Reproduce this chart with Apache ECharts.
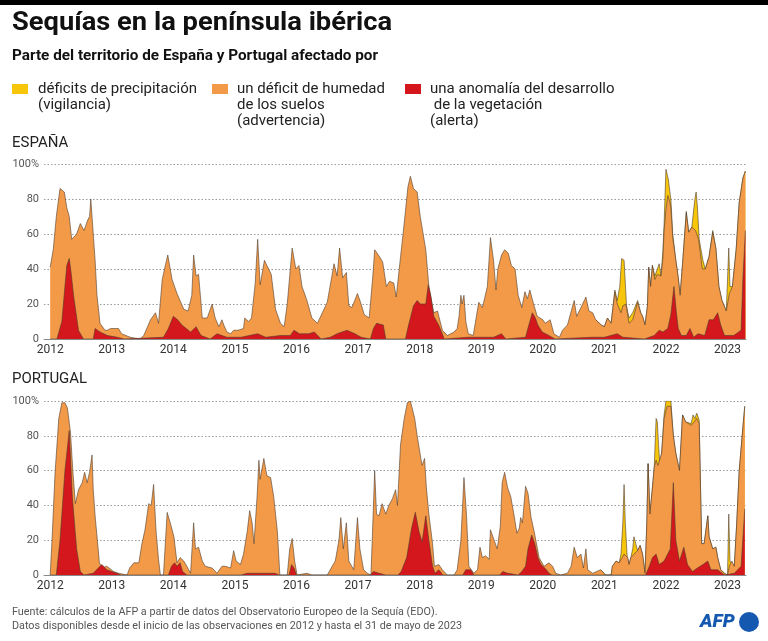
<!DOCTYPE html>
<html>
<head>
<meta charset="utf-8">
<script src="https://cdn.jsdelivr.net/npm/echarts@6/dist/echarts.min.js"></script>
<style>
	html, body { margin: 0; padding: 0; background: #fff; }
	#chart { width: 768px; height: 641px; }
</style>
</head>
<body>
<div id="chart"></div>
<script>
// años mostrados en el eje
const yearTicks = [2012, 2013, 2014, 2015, 2016, 2017, 2018, 2019, 2020, 2021, 2022, 2023]

// España: % del territorio [año, valor]
const esOrange = [
	[2012.0, 41], [2012.05, 51], [2012.1, 70], [2012.16, 86], [2012.19, 87], [2012.23, 84], [2012.27, 75], [2012.31, 70],
	[2012.35, 57], [2012.43, 60], [2012.49, 66], [2012.52, 67], [2012.55, 62], [2012.61, 68], [2012.64, 70], [2012.66, 80],
	[2012.69, 65], [2012.73, 45], [2012.76, 25], [2012.81, 9], [2012.89, 5], [2012.93, 5], [2012.98, 6], [2013.06, 6],
	[2013.11, 6], [2013.16, 3], [2013.3, 1], [2013.46, 0], [2013.52, 2], [2013.63, 11], [2013.71, 15], [2013.76, 9],
	[2013.82, 34], [2013.87, 42], [2013.91, 48], [2013.98, 34], [2014.06, 26], [2014.17, 17], [2014.24, 16], [2014.3, 25],
	[2014.33, 48], [2014.37, 36], [2014.41, 37], [2014.47, 12], [2014.55, 12], [2014.63, 20], [2014.68, 12], [2014.74, 7],
	[2014.79, 11], [2014.82, 8], [2014.87, 4], [2014.93, 3], [2014.98, 5], [2015.05, 5], [2015.14, 6], [2015.16, 12],
	[2015.22, 10], [2015.27, 12], [2015.33, 32], [2015.37, 57], [2015.41, 31], [2015.48, 45], [2015.52, 42], [2015.59, 37],
	[2015.66, 17], [2015.74, 9], [2015.8, 7], [2015.85, 20], [2015.93, 52], [2015.99, 40], [2016.04, 42], [2016.09, 30],
	[2016.17, 22], [2016.25, 12], [2016.34, 9], [2016.42, 15], [2016.5, 21], [2016.61, 43], [2016.66, 36], [2016.7, 52],
	[2016.75, 35], [2016.81, 38], [2016.85, 19], [2016.9, 18], [2016.99, 26], [2017.04, 21], [2017.1, 14], [2017.18, 12],
	[2017.24, 36], [2017.27, 51], [2017.35, 47], [2017.4, 44], [2017.46, 30], [2017.51, 33], [2017.58, 32], [2017.62, 24],
	[2017.69, 47], [2017.74, 63], [2017.81, 87], [2017.85, 93], [2017.9, 86], [2017.96, 84], [2018.01, 70], [2018.1, 51],
	[2018.15, 30], [2018.23, 15], [2018.29, 16], [2018.37, 5], [2018.45, 2], [2018.56, 4], [2018.61, 6], [2018.64, 13],
	[2018.67, 25], [2018.69, 20], [2018.72, 25], [2018.75, 10], [2018.79, 3], [2018.87, 2], [2018.96, 21], [2019.02, 18],
	[2019.1, 30], [2019.15, 58], [2019.2, 45], [2019.24, 28], [2019.27, 40], [2019.33, 48], [2019.38, 51], [2019.44, 49],
	[2019.49, 42], [2019.55, 40], [2019.6, 25], [2019.66, 18], [2019.71, 27], [2019.75, 23], [2019.79, 28], [2019.85, 20],
	[2019.91, 13], [2020.0, 11], [2020.04, 9], [2020.12, 11], [2020.18, 3], [2020.27, 1], [2020.32, 5], [2020.4, 8],
	[2020.51, 22], [2020.55, 13], [2020.62, 18], [2020.7, 24], [2020.75, 16], [2020.81, 15], [2020.86, 11], [2020.95, 8],
	[2021.0, 7], [2021.05, 12], [2021.08, 13], [2021.11, 9], [2021.17, 27], [2021.21, 20], [2021.27, 15], [2021.3, 19],
	[2021.35, 20], [2021.4, 9], [2021.46, 11], [2021.54, 21], [2021.59, 15], [2021.62, 13], [2021.66, 8], [2021.7, 19],
	[2021.72, 41], [2021.75, 30], [2021.78, 42], [2021.82, 34], [2021.86, 37], [2021.92, 36], [2021.95, 46], [2021.97, 62],
	[2022.0, 74], [2022.03, 82], [2022.06, 79], [2022.08, 75], [2022.11, 58], [2022.16, 45], [2022.2, 35], [2022.23, 25],
	[2022.27, 43], [2022.33, 72], [2022.37, 61], [2022.42, 64], [2022.48, 62], [2022.53, 57], [2022.59, 40], [2022.64, 40],
	[2022.7, 47], [2022.76, 61], [2022.81, 52], [2022.86, 30], [2022.91, 22], [2022.98, 16], [2023.03, 26], [2023.08, 30],
	[2023.14, 51], [2023.19, 78], [2023.25, 92], [2023.29, 96]
]
const esYellow = [
	[2020.86, 11], [2020.95, 8], [2021.0, 7], [2021.05, 12], [2021.08, 13], [2021.11, 9], [2021.17, 28], [2021.21, 22],
	[2021.25, 30], [2021.28, 46], [2021.32, 45], [2021.36, 19], [2021.4, 12], [2021.46, 15], [2021.54, 22], [2021.59, 15],
	[2021.62, 13], [2021.66, 8], [2021.7, 19], [2021.72, 41], [2021.75, 30], [2021.78, 42], [2021.82, 36], [2021.86, 40],
	[2021.89, 43], [2021.92, 36], [2021.95, 50], [2021.97, 66], [2022.0, 97], [2022.04, 91], [2022.06, 85], [2022.08, 80],
	[2022.11, 60], [2022.16, 45], [2022.2, 35], [2022.23, 25], [2022.27, 43], [2022.33, 73], [2022.37, 61], [2022.42, 64],
	[2022.47, 80], [2022.49, 84], [2022.51, 76], [2022.54, 57], [2022.6, 45], [2022.64, 40], [2022.68, 45], [2022.7, 47],
	[2022.76, 62], [2022.81, 52], [2022.86, 30], [2022.91, 22], [2022.98, 16], [2023.02, 52], [2023.04, 30], [2023.08, 30],
	[2023.14, 51], [2023.19, 78], [2023.25, 92], [2023.29, 96]
]
const esRed = [
	[2012.0, 0], [2012.11, 0], [2012.19, 10], [2012.24, 30], [2012.27, 42], [2012.31, 46], [2012.34, 38], [2012.38, 25],
	[2012.46, 5], [2012.54, 0], [2012.7, 0], [2012.73, 6], [2012.81, 4], [2012.93, 2], [2013.09, 1], [2013.2, 0],
	[2013.84, 1], [2013.92, 6], [2014.0, 13], [2014.07, 11], [2014.14, 8], [2014.28, 4], [2014.37, 7], [2014.45, 2],
	[2014.6, 0], [2014.71, 3], [2014.87, 1], [2015.1, 1], [2015.37, 3], [2015.5, 1], [2015.74, 2], [2015.9, 2],
	[2015.96, 5], [2016.05, 3], [2016.2, 3], [2016.29, 4], [2016.4, 0], [2016.55, 1], [2016.66, 3], [2016.82, 5],
	[2016.95, 3], [2017.05, 1], [2017.2, 0], [2017.25, 6], [2017.3, 9], [2017.41, 8], [2017.45, 0], [2017.77, 0],
	[2017.82, 8], [2017.85, 12], [2017.9, 19], [2017.96, 22], [2018.01, 20], [2018.1, 20], [2018.14, 31], [2018.18, 25],
	[2018.23, 13], [2018.31, 8], [2018.4, 0], [2018.79, 1], [2019.2, 1], [2019.33, 3], [2019.4, 0], [2019.72, 1],
	[2019.75, 5], [2019.83, 15], [2019.88, 12], [2019.92, 8], [2019.95, 9], [2019.99, 4], [2020.1, 2], [2020.2, 0],
	[2020.8, 1], [2021.0, 1], [2021.21, 3], [2021.3, 1], [2021.65, 0], [2021.81, 2], [2021.89, 5], [2021.95, 4],
	[2022.03, 6], [2022.08, 14], [2022.13, 30], [2022.17, 15], [2022.2, 6], [2022.25, 2], [2022.33, 2], [2022.39, 6],
	[2022.45, 1], [2022.52, 3], [2022.63, 2], [2022.7, 11], [2022.77, 11], [2022.84, 15], [2022.89, 8], [2022.95, 2],
	[2023.1, 2], [2023.22, 5], [2023.25, 35], [2023.29, 62]
]

// Portugal
const ptOrange = [
	[2012.0, 0], [2012.03, 20], [2012.08, 59], [2012.14, 90], [2012.19, 99], [2012.24, 99], [2012.28, 96], [2012.33, 82],
	[2012.37, 59], [2012.41, 41], [2012.46, 49], [2012.52, 53], [2012.56, 59], [2012.6, 53], [2012.64, 59], [2012.68, 69],
	[2012.7, 49], [2012.73, 34], [2012.76, 33], [2012.8, 7], [2012.84, 4], [2012.92, 5], [2013.03, 2], [2013.11, 1],
	[2013.25, 0], [2013.29, 4], [2013.36, 7], [2013.44, 7], [2013.49, 18], [2013.54, 26], [2013.6, 41], [2013.64, 40],
	[2013.68, 52], [2013.72, 25], [2013.76, 9], [2013.79, 0], [2013.84, 0], [2013.9, 36], [2013.95, 30], [2014.01, 22],
	[2014.06, 7], [2014.11, 10], [2014.17, 8], [2014.22, 5], [2014.28, 1], [2014.33, 30], [2014.36, 15], [2014.41, 16],
	[2014.47, 8], [2014.52, 5], [2014.63, 4], [2014.71, 1], [2014.79, 5], [2014.85, 5], [2014.93, 4], [2014.98, 14],
	[2015.02, 8], [2015.09, 6], [2015.14, 12], [2015.2, 25], [2015.24, 37], [2015.28, 30], [2015.31, 18], [2015.36, 45],
	[2015.39, 66], [2015.41, 55], [2015.47, 67], [2015.52, 57], [2015.58, 56], [2015.63, 45], [2015.69, 25], [2015.73, 0],
	[2015.85, 0], [2015.89, 15], [2015.93, 21], [2015.97, 8], [2016.01, 0], [2016.17, 1], [2016.25, 0], [2016.5, 0],
	[2016.58, 5], [2016.63, 8], [2016.69, 20], [2016.72, 33], [2016.76, 15], [2016.81, 30], [2016.85, 8], [2016.93, 3],
	[2016.99, 33], [2017.03, 15], [2017.09, 3], [2017.15, 1], [2017.21, 0], [2017.27, 60], [2017.3, 35], [2017.34, 34],
	[2017.39, 41], [2017.45, 35], [2017.5, 40], [2017.56, 44], [2017.61, 49], [2017.64, 40], [2017.69, 75], [2017.75, 90],
	[2017.8, 99], [2017.85, 100], [2017.92, 90], [2017.96, 80], [2018.02, 67], [2018.04, 63], [2018.08, 67], [2018.11, 50],
	[2018.15, 35], [2018.21, 18], [2018.24, 5], [2018.31, 6], [2018.37, 3], [2018.45, 0], [2018.56, 0], [2018.61, 3],
	[2018.67, 20], [2018.72, 56], [2018.76, 35], [2018.8, 5], [2018.88, 1], [2018.94, 3], [2018.98, 16], [2019.02, 10],
	[2019.07, 11], [2019.13, 9], [2019.15, 26], [2019.21, 20], [2019.26, 15], [2019.31, 28], [2019.34, 53], [2019.38, 59],
	[2019.43, 50], [2019.48, 45], [2019.53, 35], [2019.58, 24], [2019.62, 27], [2019.64, 33], [2019.67, 30], [2019.72, 51],
	[2019.76, 47], [2019.81, 33], [2019.86, 25], [2019.94, 10], [2020.02, 5], [2020.1, 7], [2020.16, 5], [2020.21, 1],
	[2020.29, 0], [2020.4, 1], [2020.46, 5], [2020.51, 16], [2020.56, 10], [2020.62, 12], [2020.66, 4], [2020.7, 15],
	[2020.73, 3], [2020.81, 1], [2020.94, 3], [2021.02, 0], [2021.11, 0], [2021.13, 5], [2021.19, 8], [2021.24, 7],
	[2021.29, 10], [2021.32, 12], [2021.38, 10], [2021.4, 6], [2021.43, 10], [2021.48, 12], [2021.54, 14], [2021.58, 17],
	[2021.62, 12], [2021.66, 1], [2021.69, 30], [2021.71, 64], [2021.74, 35], [2021.78, 50], [2021.81, 62], [2021.84, 66],
	[2021.87, 63], [2021.9, 62], [2021.93, 70], [2021.97, 90], [2022.02, 97], [2022.08, 97], [2022.12, 80], [2022.16, 70],
	[2022.22, 60], [2022.27, 92], [2022.32, 88], [2022.41, 86], [2022.46, 88], [2022.5, 90], [2022.54, 87], [2022.57, 88],
	[2022.58, 18], [2022.62, 18], [2022.68, 34], [2022.7, 22], [2022.76, 15], [2022.81, 16], [2022.84, 10], [2022.89, 3],
	[2022.95, 1], [2023.0, 0], [2023.03, 5], [2023.07, 8], [2023.11, 5], [2023.15, 30], [2023.19, 60], [2023.25, 85],
	[2023.28, 97]
]
const ptYellow = [
	[2020.94, 3], [2021.02, 0], [2021.11, 0], [2021.13, 5], [2021.19, 8], [2021.24, 7], [2021.27, 12], [2021.3, 30],
	[2021.32, 52], [2021.34, 30], [2021.37, 11], [2021.4, 6], [2021.43, 10], [2021.46, 15], [2021.48, 22], [2021.51, 18],
	[2021.54, 14], [2021.58, 17], [2021.62, 12], [2021.66, 1], [2021.69, 30], [2021.71, 64], [2021.74, 35], [2021.78, 50],
	[2021.81, 62], [2021.84, 90], [2021.86, 88], [2021.88, 75], [2021.9, 64], [2021.93, 70], [2021.97, 92], [2022.0, 100],
	[2022.08, 100], [2022.12, 80], [2022.16, 70], [2022.22, 60], [2022.27, 92], [2022.32, 88], [2022.41, 87], [2022.44, 92],
	[2022.47, 90], [2022.5, 93], [2022.54, 89], [2022.57, 88], [2022.58, 18], [2022.62, 18], [2022.68, 34], [2022.7, 22],
	[2022.76, 15], [2022.81, 16], [2022.84, 10], [2022.89, 3], [2022.95, 1], [2023.0, 0], [2023.02, 35], [2023.04, 8],
	[2023.07, 8], [2023.11, 5], [2023.15, 30], [2023.19, 60], [2023.25, 85], [2023.28, 97]
]
const ptRed = [
	[2012.0, 0], [2012.1, 0], [2012.16, 20], [2012.24, 60], [2012.31, 83], [2012.36, 45], [2012.43, 15], [2012.49, 2],
	[2012.55, 0], [2012.7, 1], [2012.78, 4], [2012.84, 6], [2012.92, 3], [2013.08, 1], [2013.15, 0], [2013.92, 0],
	[2013.97, 5], [2014.02, 7], [2014.06, 5], [2014.11, 7], [2014.15, 2], [2014.22, 0], [2015.1, 0], [2015.2, 1],
	[2015.65, 1], [2015.72, 0], [2015.88, 0], [2015.92, 6], [2015.96, 4], [2016.0, 0], [2017.2, 0], [2017.25, 2],
	[2017.34, 1], [2017.45, 0], [2017.65, 0], [2017.7, 2], [2017.79, 10], [2017.87, 27], [2017.93, 36], [2017.99, 25],
	[2018.04, 19], [2018.1, 34], [2018.15, 20], [2018.21, 5], [2018.25, 1], [2018.31, 3], [2018.38, 0], [2018.7, 0],
	[2018.75, 3], [2018.83, 3], [2018.88, 0], [2019.3, 0], [2019.35, 2], [2019.43, 1], [2019.6, 0], [2019.66, 2],
	[2019.72, 5], [2019.76, 15], [2019.82, 23], [2019.87, 18], [2019.92, 10], [2019.97, 6], [2020.06, 3], [2020.1, 1],
	[2020.15, 0], [2021.67, 0], [2021.73, 5], [2021.78, 10], [2021.84, 12], [2021.89, 6], [2021.97, 8], [2022.07, 15],
	[2022.12, 53], [2022.16, 20], [2022.22, 8], [2022.29, 16], [2022.35, 6], [2022.43, 2], [2022.51, 4], [2022.6, 6],
	[2022.68, 8], [2022.73, 3], [2022.84, 3], [2022.95, 0], [2023.11, 1], [2023.22, 5], [2023.28, 38]
]

const cYellow = '#f7c60a'
const cOrange = '#f29a48'
const cRed = '#d3171d'
const edge = 'rgba(80, 60, 45, 0.85)'
const FONT = 'Roboto, "Noto Sans", sans-serif'

const ctx = document.createElement('canvas').getContext('2d')
// comprime el texto horizontalmente hasta el ancho del original
const squeeze = (text, font, width) => {
	ctx.font = font
	return width / ctx.measureText(text).width
}

const label = (text, x, y, font, color, sx) => ({
	type: 'text',
	x: x,
	y: y,
	scaleX: sx,
	scaleY: 1,
	silent: true,
	style: { text: text, font: font, fill: color, verticalAlign: 'middle' },
})

const titleFont = 'bold 26px ' + FONT
const subFont = 'bold 15px ' + FONT
const legFont = '14px ' + FONT
const sTitle = squeeze('Sequías en la península ibérica', titleFont, 380)
const sSub = squeeze('Parte del territorio de España y Portugal afectado por', subFont, 366)
const sLeg = squeeze('déficits de precipitación', legFont, 159)
const footFont = '11px ' + FONT
const sFoot = squeeze('Datos disponibles desde el inicio de las observaciones en 2012 y hasta el 31 de mayo de 2023', footFont, 450)

const grids = [
	{ left: 44, right: 22, top: 164, height: 175 },
	{ left: 44, right: 22, top: 401, height: 174 },
]

const xAxisOf = (i) => ({
	type: 'value',
	gridIndex: i,
	min: 2011.9,
	max: 2023.3,
	splitLine: { show: false },
	axisTick: { show: false },
	axisLine: { lineStyle: { color: '#8a8a8a', width: 1 } },
	axisLabel: {
		customValues: yearTicks,
		formatter: (v) => String(v),
		color: '#333',
		fontSize: 12,
		fontFamily: FONT,
		margin: 5,
	},
})

const yAxisOf = (i) => ({
	type: 'value',
	gridIndex: i,
	min: 0,
	max: 100,
	interval: 20,
	axisLine: { show: false },
	axisTick: { show: false },
	axisLabel: {
		formatter: (v) => (v === 100 ? '100%' : String(v)),
		color: '#555',
		fontSize: 11,
		fontFamily: FONT,
		margin: 5,
	},
	splitLine: { lineStyle: { color: '#9a9a9a', type: [1.5, 2], width: 1 } },
})

const area = (data, color, i, z) => ({
	type: 'line',
	xAxisIndex: i,
	yAxisIndex: i,
	data: data,
	showSymbol: false,
	z: z,
	lineStyle: { color: edge, width: 0.7 },
	areaStyle: { color: color, opacity: 1 },
	silent: true,
})

const chart = echarts.init(document.getElementById('chart'), null, { renderer: 'canvas' })

const legendY = 89
const graphic = [
	{ type: 'rect', shape: { x: 0, y: 0, width: 768, height: 5 }, style: { fill: '#000' } },
	label('Sequías en la península ibérica', 12, 23, titleFont, '#111', sTitle),
	label('Parte del territorio de España y Portugal afectado por', 12, 56, subFont, '#111', sSub),
	{ type: 'rect', shape: { x: 12, y: legendY - 5, width: 16, height: 10 }, style: { fill: cYellow } },
	label('déficits de precipitación', 38, legendY, legFont, '#222', sLeg),
	label('(vigilancia)', 38, legendY + 16, legFont, '#222', sLeg),
	{ type: 'rect', shape: { x: 212, y: legendY - 5, width: 16, height: 10 }, style: { fill: cOrange } },
	label('un déficit de humedad', 237, legendY, legFont, '#222', sLeg),
	label('de los suelos', 237, legendY + 16, legFont, '#222', sLeg),
	label('(advertencia)', 237, legendY + 32, legFont, '#222', sLeg),
	{ type: 'rect', shape: { x: 405, y: legendY - 5, width: 16, height: 10 }, style: { fill: cRed } },
	label('una anomalía del desarrollo', 430, legendY, legFont, '#222', sLeg),
	label(' de la vegetación', 430, legendY + 16, legFont, '#222', sLeg),
	label('(alerta)', 430, legendY + 32, legFont, '#222', sLeg),
	label('ESPAÑA', 12, 143, legFont, '#222', sLeg),
	label('PORTUGAL', 12, 379, legFont, '#222', sLeg),
	label('Fuente: cálculos de la AFP a partir de datos del Observatorio Europeo de la Sequía (EDO).', 12, 612, footFont, '#555', sFoot),
	label('Datos disponibles desde el inicio de las observaciones en 2012 y hasta el 31 de mayo de 2023', 12, 626, footFont, '#555', sFoot),
	label('AFP', 700, 622, 'italic 900 19px ' + FONT, '#1558b0', 1),
	{ type: 'circle', shape: { cx: 749, cy: 622, r: 10 }, style: { fill: '#1558b0' } },
]

chart.setOption({
	animation: false,
	textStyle: { fontFamily: FONT },
	grid: grids,
	xAxis: [xAxisOf(0), xAxisOf(1)],
	yAxis: [yAxisOf(0), yAxisOf(1)],
	series: [
		area(esYellow, cYellow, 0, 1),
		area(esOrange, cOrange, 0, 2),
		area(esRed, cRed, 0, 3),
		area(ptYellow, cYellow, 1, 1),
		area(ptOrange, cOrange, 1, 2),
		area(ptRed, cRed, 1, 3),
	],
	graphic: graphic,
})
</script>
</body>
</html>
